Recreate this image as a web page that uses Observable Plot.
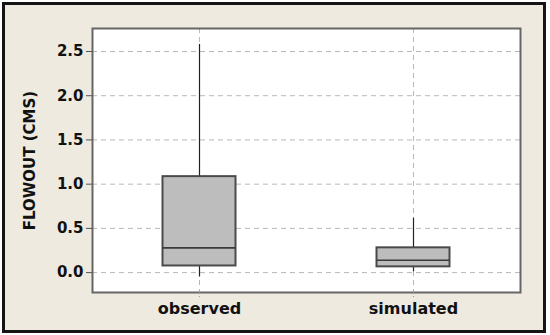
<!DOCTYPE html>
<html>
<head>
<meta charset="utf-8">
<script src="https://cdn.jsdelivr.net/npm/d3@7"></script>
<script src="https://cdn.jsdelivr.net/npm/@observablehq/plot@0.6"></script>
<style>
  html, body { margin: 0; padding: 0; background: #ffffff; }
  #wrap { position: relative; width: 550px; height: 335px; }
  #outer { position: absolute; left: 2px; top: 2px; width: 538px; height: 325px;
           border: 3px solid #151515; background: #eeeae0; }
  #chart { position: absolute; left: 0; top: 0; }
</style>
</head>
<body>
<div id="wrap"><div id="outer"></div><div id="chart"></div></div>
<script>
const categories = ["observed", "simulated"];
const whiskerLow  = [-0.05, 0.01];
const q1          = [0.075, 0.065];
const median      = [0.28, 0.14];
const q3          = [1.085, 0.28];
const whiskerHigh = [2.58, 0.615];
const yTicks = [0, 0.5, 1.0, 1.5, 2.0, 2.5];

const rows = categories.map((c, i) => ({
  cat: c, lo: whiskerLow[i], q1: q1[i], med: median[i], q3: q3[i], hi: whiskerHigh[i]
}));

const inset = 70.5;
const chart = Plot.plot({
  width: 550,
  height: 335,
  marginLeft: 92,
  marginRight: 30,
  marginTop: 28,
  marginBottom: 43,
  style: { background: "transparent", fontFamily: "DejaVu Sans", fontWeight: "bold", color: "#111" },
  x: { type: "band", domain: categories, padding: 0, label: null },
  y: { domain: [-0.225, 2.76], label: null, ticks: yTicks },
  marks: [
    Plot.frame({ fill: "white", stroke: null }),
    Plot.gridY(yTicks, { stroke: "#b8b8b8", strokeOpacity: 1, strokeDasharray: "5,4" }),
    Plot.gridX(categories, { stroke: "#b8b8b8", strokeOpacity: 1, strokeDasharray: "5,4" }),
    Plot.ruleX(rows, { x: "cat", y1: "lo", y2: "hi", stroke: "#222", strokeWidth: 1.2 }),
    Plot.barY(rows, { x: "cat", y1: "q1", y2: "q3", fill: "#bdbdbd", stroke: "#4a4a4a", strokeWidth: 2, insetLeft: inset, insetRight: inset }),
    Plot.tickY(rows, { x: "cat", y: "med", stroke: "#3a3a3a", strokeWidth: 1.6, insetLeft: inset, insetRight: inset }),
    Plot.frame({ stroke: "#666", strokeWidth: 2 }),
    Plot.axisY(yTicks, { tickFormat: d3.format(".1f"), tickSize: 6, tickPadding: 3, fontSize: 15, fontWeight: "bold", stroke: "#555", label: null }),
    Plot.axisX(categories, { tickSize: 5, tickPadding: 5, fontSize: 16, fontWeight: "bold", stroke: "#999", strokeDasharray: "2,2", label: null }),
    Plot.text(["FLOWOUT (CMS)"], { frameAnchor: "left", textAnchor: "middle", dx: -62, rotate: -90, fontSize: 15, fontWeight: "bold", fill: "#111" })
  ]
});
document.getElementById("chart").appendChild(chart);
</script>
</body>
</html>
